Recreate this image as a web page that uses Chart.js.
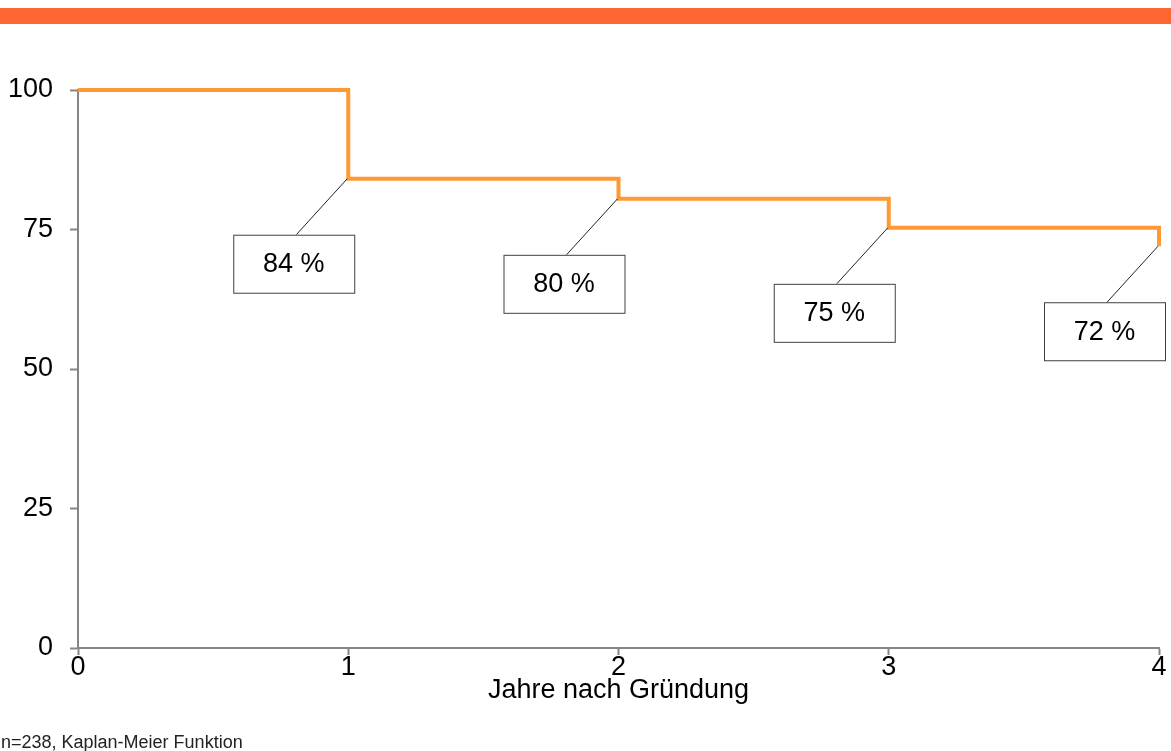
<!DOCTYPE html>
<html lang="de">
<head>
  <meta charset="UTF-8" />
  <title>Überlebensfunktion</title>
  <script src="https://cdn.jsdelivr.net/npm/chart.js@4.4.1/dist/chart.umd.min.js"></script>
  <style>
    body { margin: 0; background: #fff; }
    #wrap { position: relative; width: 1171px; height: 751px; overflow: hidden; }
    #balken { position: absolute; left: 0; top: 8px; width: 1171px; height: 16px; background: #ff6633; }
    #fussnote { position: absolute; left: 1px; top: 733px; font: 18px Arial, "Liberation Sans", sans-serif; line-height: 18px; color: #222; }
  </style>
</head>
<body>
<div id="wrap">
  <div id="balken"></div>
  <canvas id="grafico" width="1171" height="751"></canvas>
  <div id="fussnote">n=238, Kaplan-Meier Funktion</div>
</div>

<script>
  // Daten
  const jahre = [0, 1, 2, 3, 4];
  const ueberleben = [100, 84.1, 80.5, 75.3, 72];
  const beschriftung = ['', '84 %', '80 %', '75 %', '72 %'];
  const yTicks = [0, 25, 50, 75, 100];

  const schrift = 'Arial, "Liberation Sans", sans-serif';
  const grau = '#868686';

  // Kästchen mit Hinweislinie an jedem Sprung
  const kaesten = {
    id: 'kaesten',
    afterDatasetsDraw(chart) {
      const ctx = chart.ctx;
      const meta = chart.getDatasetMeta(0);
      ctx.save();
      meta.data.forEach((el, i) => {
        if (!beschriftung[i]) return;
        const px = el.x, py = el.y;
        const bx = px - 115, by = py + 56, bw = 121, bh = 58;
        // Linie
        ctx.strokeStyle = '#222';
        ctx.lineWidth = 1;
        ctx.beginPath();
        ctx.moveTo(px - 1, py);
        ctx.lineTo(px - 52, by);
        ctx.stroke();
        // Kasten
        ctx.fillStyle = '#fff';
        ctx.fillRect(bx, by, bw, bh);
        ctx.strokeStyle = '#404040';
        ctx.strokeRect(bx + 0.5, by + 0.5, bw, bh);
        ctx.fillStyle = '#000';
        ctx.font = '27px ' + schrift;
        ctx.textAlign = 'center';
        ctx.textBaseline = 'middle';
        ctx.fillText(beschriftung[i], bx + bw / 2, by + bh / 2 + 1);
      });
      ctx.restore();
    }
  };

  const ctx = document.getElementById('grafico').getContext('2d');
  const grafico = new Chart(ctx, {
    type: 'line',
    data: {
      datasets: [{
        data: jahre.map((j, i) => ({ x: j, y: ueberleben[i] })),
        borderColor: '#ff9933',
        borderWidth: 4,
        stepped: true,
        pointRadius: 0,
        fill: false,
        clip: false
      }]
    },
    options: {
      responsive: false,
      animation: false,
      layout: { padding: { top: 90, right: 12, left: 0, bottom: 0 } },
      plugins: { legend: { display: false }, tooltip: { enabled: false } },
      scales: {
        x: {
          type: 'linear',
          min: 0, max: 4,
          ticks: { stepSize: 1, color: '#000', padding: -4, font: { family: schrift, size: 27 } },
          grid: { drawOnChartArea: false, tickLength: 7, tickColor: grau, tickWidth: 2 },
          border: { color: grau, width: 2 },
          title: { display: true, text: 'Jahre nach Gründung', color: '#000',
                   font: { family: schrift, size: 27 }, padding: { top: 0, bottom: 44 } },
          afterFit(s) { s.height = 103; s.paddingLeft = 0; s.paddingRight = 0; }
        },
        y: {
          min: 0, max: 100,
          afterBuildTicks(s) { s.ticks = yTicks.map(v => ({ value: v })); },
          ticks: { color: '#000', padding: 17, font: { family: schrift, size: 27 } },
          grid: { drawOnChartArea: false, tickLength: 8, tickColor: grau, tickWidth: 2 },
          border: { color: grau, width: 2 },
          afterFit(s) { s.width = 78; s.paddingTop = 0; s.paddingBottom = 0; }
        }
      }
    },
    plugins: [kaesten]
  });
</script>
</body>
</html>
